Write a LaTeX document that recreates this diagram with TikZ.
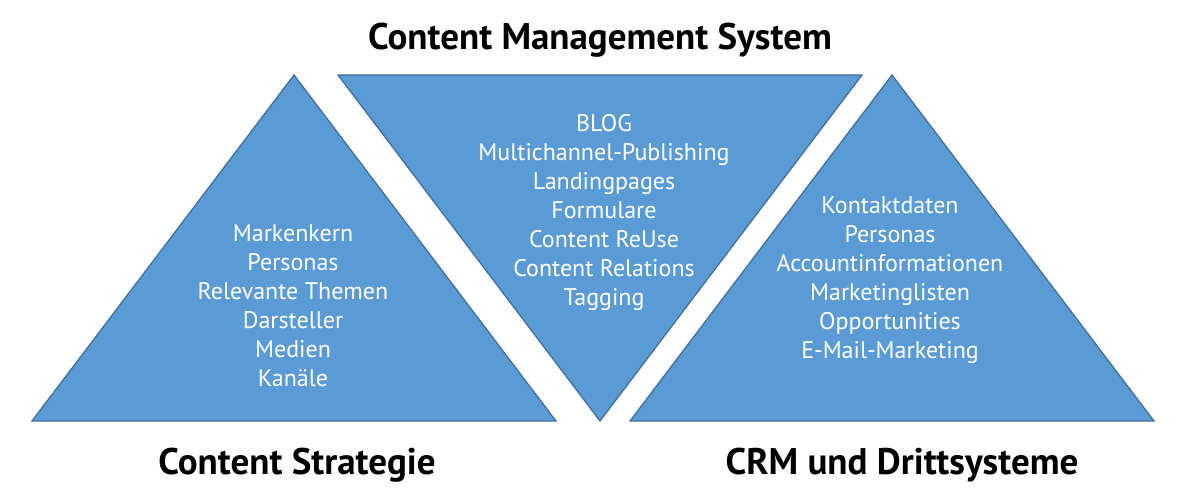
\documentclass[tikz,border=0pt]{standalone}
\usepackage{fontspec}
\setmainfont{PT Sans}
\definecolor{tfill}{HTML}{5B9BD5}
\definecolor{tdraw}{HTML}{41719C}
\begin{document}
\begin{tikzpicture}[x=1pt,y=-1pt,
  tri/.style={fill=tfill,draw=tdraw,line width=1.3pt,line join=miter},
  list/.style={text=white,align=center,font=\fontsize{24}{29}\selectfont,inner sep=0pt},
  head/.style={text=black,font=\fontsize{37}{42}\selectfont\bfseries,inner sep=0pt}]
\useasboundingbox (0,0) rectangle (1200,495);
% triangles
\draw[tri] (294,75) -- (556,421) -- (32,421) -- cycle;
\draw[tri] (338,75) -- (862,75) -- (600,421) -- cycle;
\draw[tri] (892,75) -- (1154,421) -- (630,421) -- cycle;
% lists
\node[list] (ls) at (293,306) {Markenkern\\Personas\\Relevante Themen\\Darsteller\\Medien\\Kanäle};
\node[list] (lm) at (604,212) {BLOG\\Multichannel-Publishing\\Landingpages\\Formulare\\Content ReUse\\Content Relations\\Tagging};
\node[list] (lr) at (890,280) {Kontaktdaten\\Personas\\Accountinformationen\\Marketinglisten\\Opportunities\\E-Mail-Marketing};
% headings
\node[head] (hm) at (600,40) {Content Management System};
\node[head] (hl) at (297,465) {Content Strategie};
\node[head] (hr) at (902,465) {CRM und Drittsysteme};
\end{tikzpicture}
\end{document}
